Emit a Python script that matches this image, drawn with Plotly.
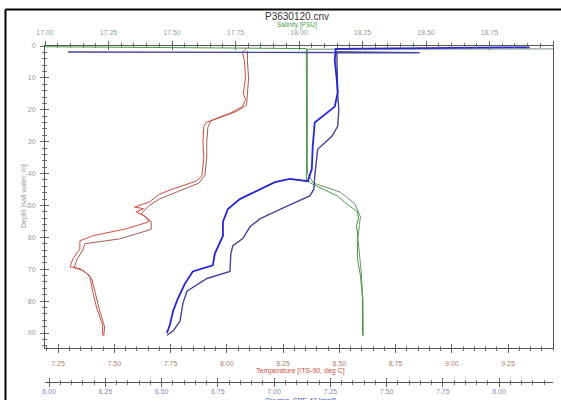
import plotly.graph_objects as go

# ---- CTD profile P3630120.cnv : two casts per variable ----
# Temperature [ITS-90, deg C]
depth_temp_a = [0.5, 1.2, 2.0, 5, 10, 15, 16.8, 19.0, 21.0, 24.0, 25.2, 30, 35, 40.8, 42.4,
                44.9, 46.5, 48.9, 50.5, 51.0, 52.0, 53.5, 55.1, 57.3, 59.5, 61.1, 63.6,
                66.7, 69.2, 69.8, 72.0, 77.0, 82.2, 87.5, 90.7]
temp_a = [8.088, 8.083, 8.070, 8.079, 8.083, 8.074, 8.083, 8.070, 8.017, 7.907, 7.898, 7.894,
          7.898, 7.889, 7.863, 7.757, 7.700, 7.656, 7.590, 7.630, 7.598, 7.638, 7.656, 7.554,
          7.404, 7.347, 7.347, 7.316, 7.303, 7.347, 7.391, 7.404, 7.422, 7.448, 7.448]

depth_temp_b = [1.5, 5, 10, 16, 18.5, 20.5, 23.5, 25.5, 30, 35, 40.5, 43, 45.5, 48, 50, 52.5,
                55, 57.5, 60.5, 62, 64, 67, 69.5, 70.5, 73, 78, 83, 88, 91]
temp_b = [8.092, 8.092, 8.097, 8.092, 8.088, 8.044, 7.929, 7.916, 7.911, 7.911, 7.903, 7.876,
          7.788, 7.700, 7.656, 7.620, 7.664, 7.664, 7.523, 7.369, 7.360, 7.334, 7.321, 7.365,
          7.400, 7.418, 7.435, 7.457, 7.453]

# Salinity [PSU]
depth_sal_a = [0.2, 0.8, 5, 15, 25, 35, 42.0, 43.3, 44.2, 47.0, 49.0, 52.0, 54.2, 56.5, 58.3,
               66.7, 72.0, 79.1, 90.7]
sal_a = [16.95, 18.029, 18.029, 18.030, 18.029, 18.030, 18.029, 18.053, 18.076, 18.151,
         18.180, 18.230, 18.234, 18.226, 18.230, 18.230, 18.242, 18.250, 18.250]

depth_sal_b = [91.0, 80.0, 70.0, 60.4, 56.0, 53.6, 49.5, 45.8, 43.0, 40.0, 30, 20, 10, 3, 1.0, 0.9]
sal_b = [18.253, 18.252, 18.244, 18.232, 18.238, 18.242, 18.220, 18.162, 18.057, 18.033,
         18.033, 18.032, 18.033, 18.033, 18.033, 19.10]

# Oxygen, SBE 43 [mg/l]
depth_oxy_a = [0.4, 0.6, 0.9, 1.2, 4.4, 10.6, 14.6, 19.0, 22.1, 24.0, 31.5, 38.6, 42.4, 41.7,
               42.7, 46.4, 48.0, 51.1, 55.1, 59.5, 65.1, 68.8, 70.7, 74.5, 79.1, 83.2, 87.5, 90.0]
oxy_a = [8.136, 7.600, 7.274, 7.274, 7.270, 7.279, 7.283, 7.270, 7.212, 7.181, 7.172, 7.168,
         7.150, 7.070, 7.004, 6.893, 6.848, 6.795, 6.773, 6.773, 6.737, 6.728, 6.639, 6.604,
         6.573, 6.551, 6.537, 6.524]

depth_oxy_b = [90.7, 89.4, 86.3, 80.7, 76.9, 72.9, 70.7, 65.1, 62.6, 60.4, 56.7, 54.2, 50.5,
               47.0, 44.9, 40.8, 32.4, 28.3, 25.2, 19.9, 15.3, 7.5, 1.9, 2.1, 1.9]
oxy_b = [6.524, 6.551, 6.582, 6.595, 6.613, 6.702, 6.804, 6.808, 6.817, 6.861, 6.893, 6.937,
         7.048, 7.159, 7.177, 7.181, 7.194, 7.257, 7.283, 7.288, 7.283, 7.279, 7.279, 7.647,
         6.084]

# Axis ranges and tick values
depth_range = [94.7, 0]
temp_range = [7.192, 9.45]
sal_range = [17.0, 19.0]
oxy_range = [5.982, 8.24]
depth_ticks = [0, 10, 20, 30, 40, 50, 60, 70, 80, 90]

FONT = "Liberation Sans"
X_DOM = [45 / 561, 553 / 561]
Y_DOM = [1 - 348 / 400, 1 - 46 / 400]
OXY_POS = 1 - 382 / 400

fig = go.Figure()

def line(x, y, xa, color, width):
    fig.add_trace(go.Scatter(x=x, y=y, xaxis=xa, yaxis="y", mode="lines",
                             line=dict(color=color, width=width), hoverinfo="skip"))

line(temp_b, depth_temp_b, "x", "#a85a50", 1)
line(temp_a, depth_temp_a, "x", "#d84a3c", 1)
line(sal_b, depth_sal_b, "x2", "#6f8f6f", 1)
line(sal_a, depth_sal_a, "x2", "#3e9e3e", 1)
line(oxy_b, depth_oxy_b, "x3", "#44449a", 1.4)
line(oxy_a, depth_oxy_a, "x3", "#2626d0", 1.8)

# empty traces that carry the inner tick marks of each axis
for xa, ya in [("x4", "y"), ("x5", "y"), ("x6", "y"), ("x", "y2")]:
    fig.add_trace(go.Scatter(x=[None], y=[None], xaxis=xa, yaxis=ya, mode="lines",
                             hoverinfo="skip"))

def xaxis(rng, lab_color, side="bottom", ticks="outside", labels=True, standoff=4, **kw):
    return dict(range=rng, domain=X_DOM, dtick=0.25, tick0=0, automargin=False,
                tickformat=".2f", ticks=ticks, ticklen=4, tickwidth=1, tickcolor="#666",
                minor=dict(dtick=0.05, ticks=ticks, ticklen=2, tickcolor="#777"),
                showline=True, linecolor="#555", linewidth=1, showgrid=False, zeroline=False,
                side=side, showticklabels=labels, ticklabelstandoff=standoff,
                tickfont=dict(family=FONT, size=7, color=lab_color), **kw)

fig.update_layout(
    width=561, height=400, margin=dict(l=0, r=0, t=0, b=0, autoexpand=False),
    paper_bgcolor="white", plot_bgcolor="white", showlegend=False,
    xaxis=xaxis(temp_range, "#b08070", anchor="y", standoff=5),
    xaxis2=xaxis(sal_range, "#88a888", side="top", anchor="y", overlaying="x", standoff=3),
    xaxis3=xaxis(oxy_range, "#8090b8", anchor="free", position=OXY_POS, overlaying="x",
                 standoff=-1),
    xaxis4=xaxis(temp_range, "#fff", ticks="inside", labels=False, anchor="y",
                 overlaying="x"),
    xaxis5=xaxis(sal_range, "#fff", side="top", ticks="inside", labels=False,
                 anchor="y", overlaying="x"),
    xaxis6=xaxis(oxy_range, "#fff", ticks="inside", labels=False, anchor="free",
                 position=OXY_POS, overlaying="x"),
    yaxis=dict(range=depth_range, domain=Y_DOM, tickvals=depth_ticks, ticks="outside",
               ticklen=4, tickcolor="#666", anchor="x", mirror=True, automargin=False,
               minor=dict(dtick=2, ticks="outside", ticklen=2, tickcolor="#777"),
               showline=True, linecolor="#555", linewidth=1, showgrid=False, zeroline=False,
               ticklabelstandoff=3, tickfont=dict(family=FONT, size=7, color="#999")),
    yaxis2=dict(range=depth_range, domain=Y_DOM, tickvals=depth_ticks, ticks="inside",
                ticklen=4, tickcolor="#666", anchor="x", overlaying="y", side="left",
                automargin=False,
                minor=dict(dtick=2, ticks="inside", ticklen=2, tickcolor="#777"),
                showticklabels=False, showgrid=False, zeroline=False, showline=False),
)

ann = [
    dict(text="P3630120.cnv", x=297 / 561, y=1 - 16 / 400, size=10, color="#333",
         angle=0, ya="middle"),
    dict(text="Salinity [PSU]", x=297 / 561, y=1 - 24.5 / 400, size=6.5, color="#4a9a4a",
         angle=0, ya="middle"),
    dict(text="Temperature [ITS-90, deg C]", x=300 / 561, y=1 - 371 / 400, size=7,
         color="#d05040", angle=0, ya="middle"),
    dict(text="Oxygen, SBE 43 [mg/l]", x=300 / 561, y=1 - 396 / 400, size=7,
         color="#3050c0", angle=0, ya="top"),
    dict(text="Depth [salt water, m]", x=24 / 561, y=1 - 196 / 400, size=7,
         color="#999", angle=-90, ya="middle"),
]
for a in ann:
    fig.add_annotation(text=a["text"], x=a["x"], y=a["y"], xref="paper", yref="paper",
                       showarrow=False, textangle=a["angle"], xanchor="center",
                       yanchor=a["ya"], borderpad=0,
                       font=dict(family=FONT, size=a["size"], color=a["color"]))

# black frame along the top and left of the page
fig.add_shape(type="line", xref="paper", yref="paper", x0=5.5 / 561, x1=1, y0=1 - 9.5 / 400,
              y1=1 - 9.5 / 400, line=dict(color="black", width=2))
fig.add_shape(type="line", xref="paper", yref="paper", x0=5.5 / 561, x1=5.5 / 561, y0=0,
              y1=1 - 9.5 / 400, line=dict(color="black", width=2))

fig.write_html("out.html")
